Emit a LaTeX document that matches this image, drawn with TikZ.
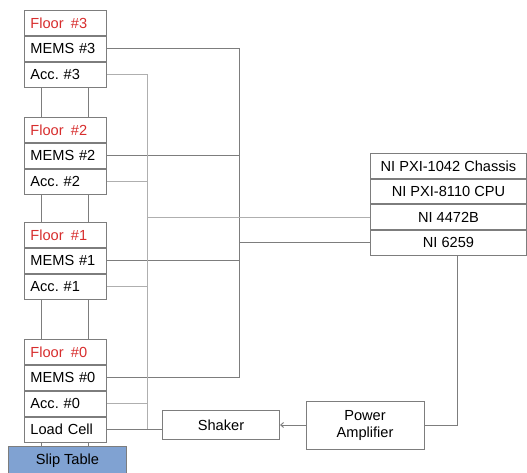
\documentclass[tikz,border=0pt]{standalone}
\usepackage{fontspec}
\setmainfont{Liberation Sans}
\usepackage{xcolor}
\usetikzlibrary{positioning,arrows.meta}
\definecolor{linegray}{RGB}{125,125,125}
\definecolor{accgray}{RGB}{175,175,175}
\definecolor{floorred}{RGB}{215,45,45}
\definecolor{slipblue}{RGB}{128,162,210}

\begin{document}
\begin{tikzpicture}[x=1pt, y=-1pt, >={Straight Barb[length=3pt,width=5pt]},
  every node/.style={font=\fontsize{14.6}{17}\selectfont},
  row/.style={draw=linegray, line width=0.9pt, minimum height=25pt, text width=70pt, inner xsep=6pt, inner ysep=1pt, align=left},
  ni/.style={draw=linegray, line width=0.9pt, minimum height=24.75pt, minimum width=156pt, inner sep=1pt, align=center},
  unit/.style={draw=linegray, line width=0.9pt, inner sep=2pt, align=center},
  sig/.style={draw=linegray, line width=0.9pt},
  acc/.style={draw=accgray, line width=0.9pt}]
  \useasboundingbox (0,0) rectangle (527,473);

  % floors of the test structure
  \node[row, anchor=north west, text=floorred] (f3) at (24,10) {Floor \,\#3};
  \node[row, below=0pt of f3] (m3) {MEMS \#3};
  \node[row, below=0pt of m3] (a3) {Acc.\ \#3};
  \node[row, anchor=north west, text=floorred] (f2) at (24,117) {Floor \,\#2};
  \node[row, below=0pt of f2] (m2) {MEMS \#2};
  \node[row, below=0pt of m2] (a2) {Acc.\ \#2};
  \node[row, anchor=north west, text=floorred] (f1) at (24,222) {Floor \,\#1};
  \node[row, below=0pt of f1] (m1) {MEMS \#1};
  \node[row, below=0pt of m1] (a1) {Acc.\ \#1};
  \node[row, anchor=north west, text=floorred] (f0) at (24,339) {Floor \,\#0};
  \node[row, below=0pt of f0] (m0) {MEMS \#0};
  \node[row, below=0pt of m0] (a0) {Acc.\ \#0};
  \node[row, below=0pt of a0] (lc) {Load Cell};
  \node[draw=linegray, line width=0.9pt, fill=slipblue, minimum width=118pt, minimum height=30pt, anchor=north west, inner sep=1pt] (slip) at (8,445.5) {Slip Table};

  % columns between floors
  \foreach \u/\l in {a3/f2, a2/f1, a1/f0, lc/slip} {
    \draw[sig] ([xshift=-24pt]\u.south) -- ([xshift=-24pt]\u.south |- \l.north);
    \draw[sig] ([xshift=23pt]\u.south) -- ([xshift=23pt]\u.south |- \l.north);
  }

  % DAQ chassis
  \node[ni, anchor=north west] (chassis) at (370,153) {NI PXI-1042 Chassis};
  \node[ni, below=0pt of chassis] (cpu) {NI PXI-8110 CPU};
  \node[ni, below=0pt of cpu] (n4472) {NI 4472B};
  \node[ni, below=0pt of n4472] (n6259) {NI 6259};

  % excitation
  \node[unit, minimum width=117pt, minimum height=29pt] (shaker) at (221,425) {Shaker};
  \node[unit, minimum width=118pt, minimum height=48pt] (amp) at (365,425) {Power\\Amplifier};

  \coordinate (mx) at (239,0);
  \coordinate (ax) at (147,0);
  \coordinate (px) at (457,0);

  % MEMS wiring
  \draw[sig] (m3.east) -| (mx |- m0.east) -- (m0.east);
  \draw[sig] (m2.east) -- (m2.east -| mx);
  \draw[sig] (m1.east) -- (m1.east -| mx);
  \draw[sig] (mx |- n6259.west) -- (n6259.west);

  % accelerometer wiring
  \draw[acc] (a3.east) -| (ax |- lc.east);
  \draw[acc] (a2.east) -- (a2.east -| ax);
  \draw[acc] (a1.east) -- (a1.east -| ax);
  \draw[acc] (a0.east) -- (a0.east -| ax);
  \draw[acc] (ax |- n4472.west) -- (n4472.west);

  \draw[sig] (lc.east) -- (lc.east -| shaker.west);
  \draw[sig, ->] (amp.west) -- (shaker.east);
  \draw[sig] (amp.east) -| (px |- n6259.south);
\end{tikzpicture}
\end{document}
